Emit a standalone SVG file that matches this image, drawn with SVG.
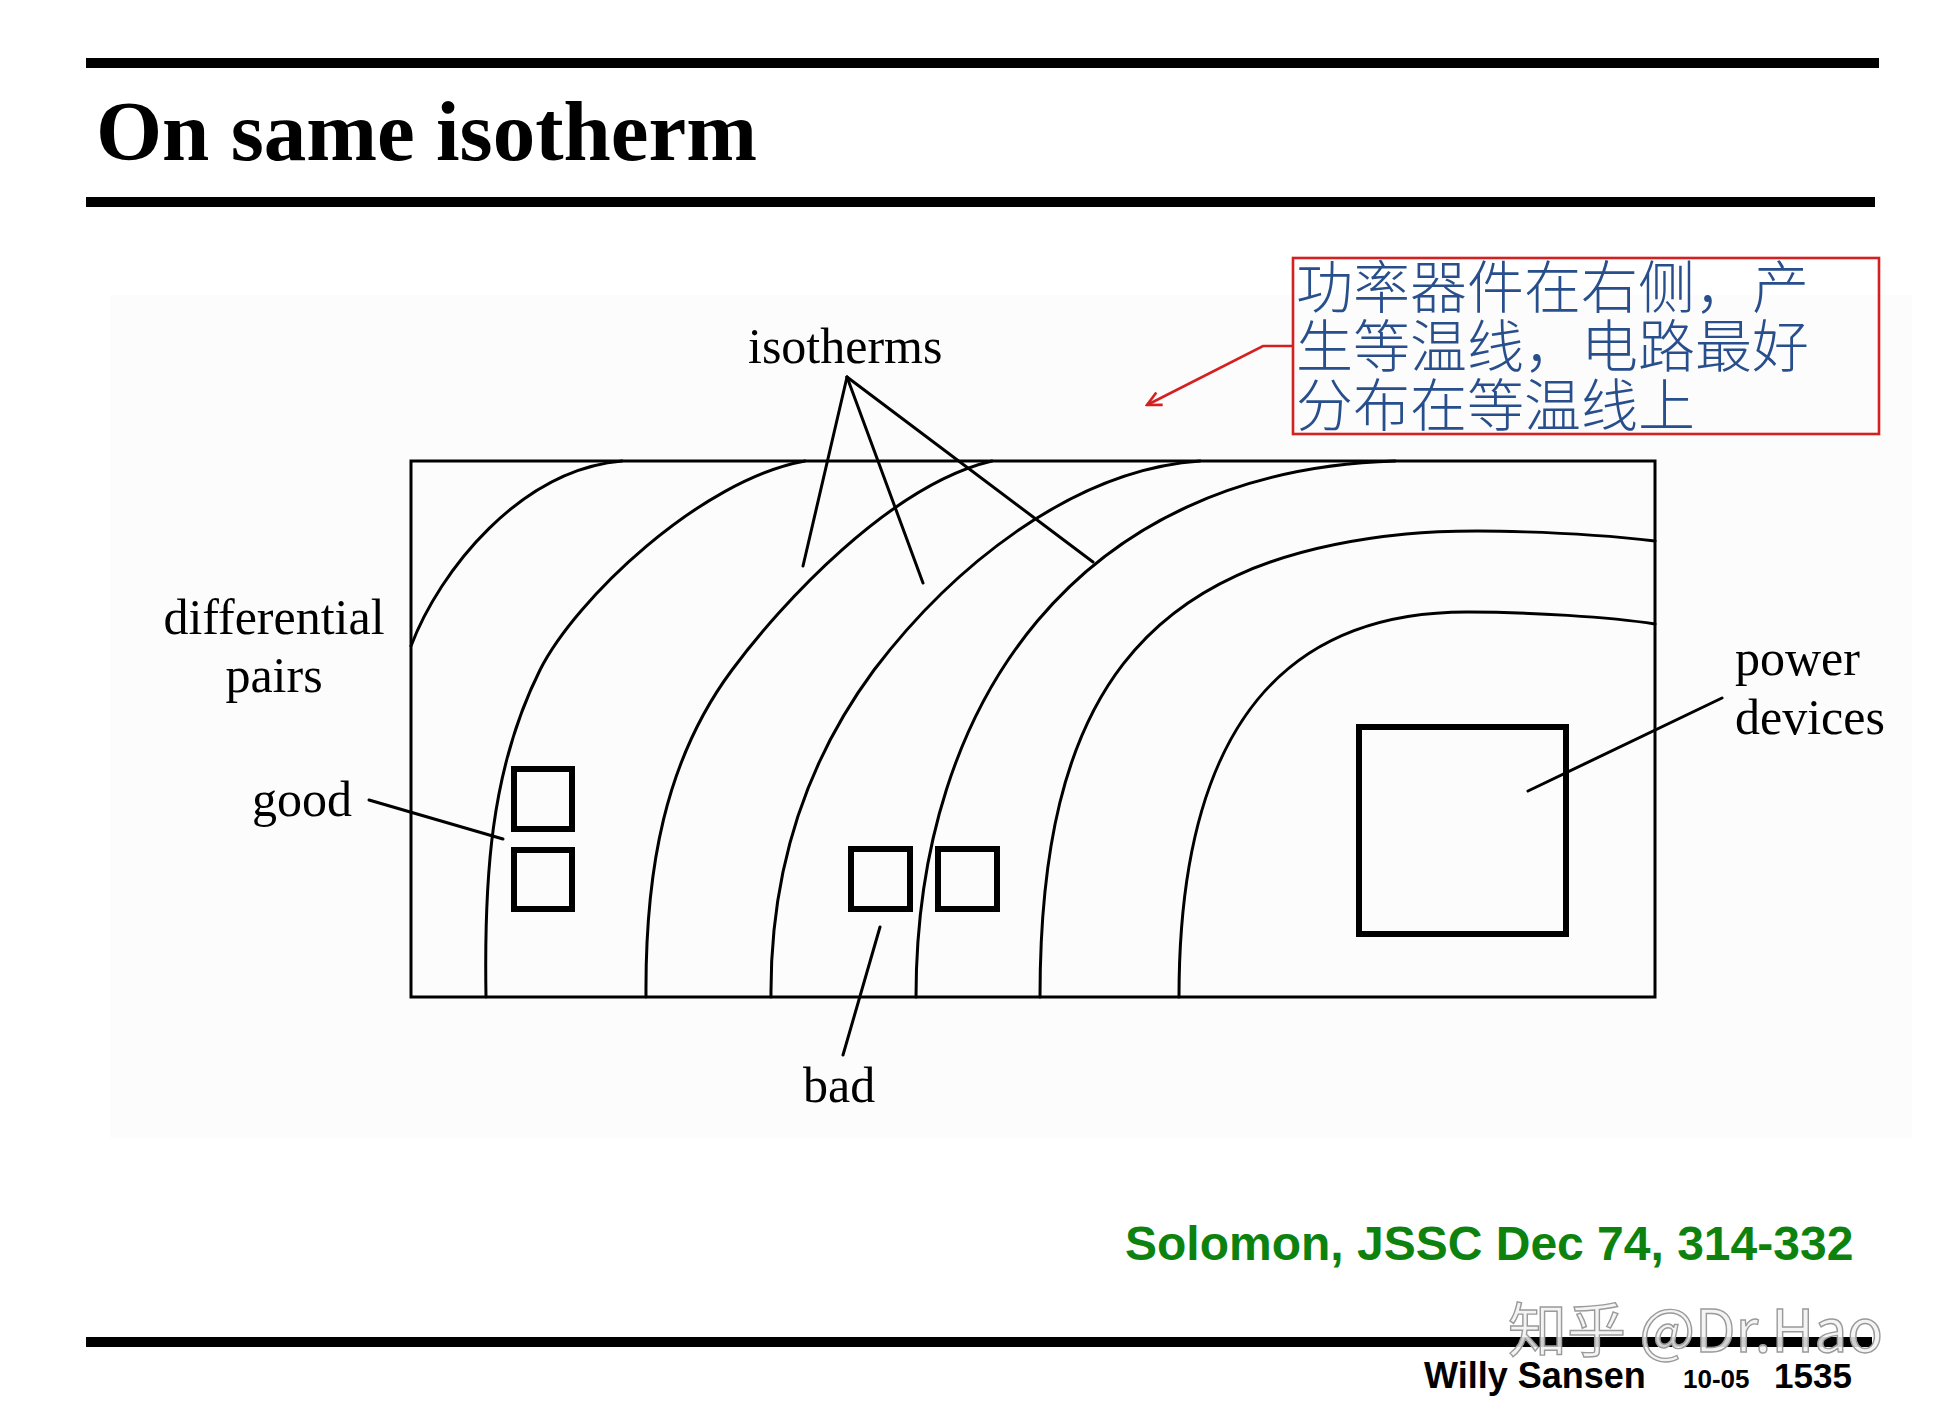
<svg xmlns="http://www.w3.org/2000/svg" width="1935" height="1411" viewBox="0 0 1935 1411">
<defs>
<style>
.bar{fill:#000}
.lbl{font-family:"Liberation Serif","Times New Roman",serif;font-size:50px;fill:#000}
.iso{fill:none;stroke:#000;stroke-width:3;stroke-linecap:round}
.lead{fill:none;stroke:#000;stroke-width:3;stroke-linecap:round}
.dev{fill:none;stroke:#000;stroke-width:6}
.cn{font-family:"Noto Sans CJK SC","Noto Sans CJK TC",sans-serif;font-size:57px;font-weight:300;fill:#284f8c}
.ft{font-family:"Liberation Sans",Arial,sans-serif;font-weight:bold;fill:#000}
</style>
<marker id="openArrow" viewBox="0 0 20 20" refX="18" refY="10" markerWidth="20" markerHeight="20" markerUnits="userSpaceOnUse" orient="auto">
<path d="M4,3 L18,10 L4,17" fill="none" stroke="#d42020" stroke-width="2.6"/>
</marker>
</defs>
<rect x="0" y="0" width="1935" height="1411" fill="#ffffff"/>
<g id="header">
<rect class="bar" x="86" y="58" width="1793" height="10"/>
<text x="96" y="160" font-family="'Liberation Serif','Times New Roman',serif" font-weight="bold" font-size="85">On same isotherm</text>
<rect class="bar" x="86" y="197" width="1789" height="10"/>
</g>
<rect id="figure-bg" x="110" y="295" width="1802" height="843" fill="#fcfcfc"/>
<g id="chip">
<rect x="411" y="461" width="1244" height="536" fill="none" stroke="#000" stroke-width="3"/>
</g>
<g id="isotherms">
<path class="iso" d="M411,646 C440,570 520,470 622,461"/>
<path class="iso" d="M486,997 C484,880 490,770 540,670 C575,600 700,480 805,461"/>
<path class="iso" d="M646,997 C645,870 665,760 732,670 C780,605 890,485 992,461"/>
<path class="iso" d="M771,997 C770,880 800,770 874,670 C950,570 1070,470 1200,461"/>
<path class="iso" d="M916,997 C916,700 1080,470 1395,461"/>
<path class="iso" d="M1040,997 C1040,700 1140,560 1406,534 C1466,528 1580,532 1655,541"/>
<path class="iso" d="M1179,997 C1179,760 1260,612 1467,612 C1530,612 1610,617 1655,624"/>
</g>
<g id="good-pair">
<rect class="dev" x="514" y="769" width="58" height="60"/>
<rect class="dev" x="514" y="850" width="58" height="59"/>
</g>
<g id="bad-pair">
<rect class="dev" x="851" y="849" width="59" height="60"/>
<rect class="dev" x="938" y="849" width="59" height="60"/>
</g>
<g id="power-devices">
<rect class="dev" x="1359" y="727" width="207" height="207"/>
</g>
<g id="connectors">
<line class="lead" x1="847" y1="377" x2="803" y2="566"/>
<line class="lead" x1="847" y1="377" x2="923" y2="583"/>
<line class="lead" x1="847" y1="377" x2="1093" y2="562"/>
<line class="lead" x1="369" y1="800" x2="503" y2="839"/>
<line class="lead" x1="880" y1="927" x2="843" y2="1055"/>
<line class="lead" x1="1722" y1="698" x2="1528" y2="791"/>
<polyline points="1293,346 1263,346 1147,405" fill="none" stroke="#d42020" stroke-width="2.6" marker-end="url(#openArrow)"/>
</g>
<g id="labels">
<text class="lbl" x="748" y="363">isotherms</text>
<text class="lbl" x="274" y="634" text-anchor="middle">differential</text>
<text class="lbl" x="274" y="692" text-anchor="middle">pairs</text>
<text class="lbl" x="252" y="816">good</text>
<text class="lbl" x="803" y="1102">bad</text>
<text class="lbl" x="1735" y="675">power</text>
<text class="lbl" x="1735" y="734">devices</text>
</g>
<g id="note">
<rect x="1293" y="258" width="586" height="176" fill="none" stroke="#d42020" stroke-width="2.6"/>
<text class="cn" x="1296" y="308">功率器件在右侧，产</text>
<text class="cn" x="1296" y="367">生等温线，电路最好</text>
<text class="cn" x="1296" y="426">分布在等温线上</text>
</g>
<g id="footer">
<text x="1125" y="1260" font-family="'Liberation Sans',Arial,sans-serif" font-weight="bold" font-size="48" fill="#0e820e">Solomon, JSSC Dec 74, 314-332</text>
<rect class="bar" x="86" y="1337" width="1786" height="10"/>
<text x="1508" y="1352" font-family="'Noto Sans CJK SC',sans-serif" font-size="59" fill="#f2f2f2" fill-opacity="0.85" stroke="#9a9a9a" stroke-width="1.4">知乎 @Dr.Hao</text>
<text class="ft" x="1424" y="1388" font-size="36">Willy Sansen</text>
<text class="ft" x="1683" y="1388" font-size="26">10-05</text>
<text class="ft" x="1774" y="1388" font-size="35">1535</text>
</g>
</svg>
